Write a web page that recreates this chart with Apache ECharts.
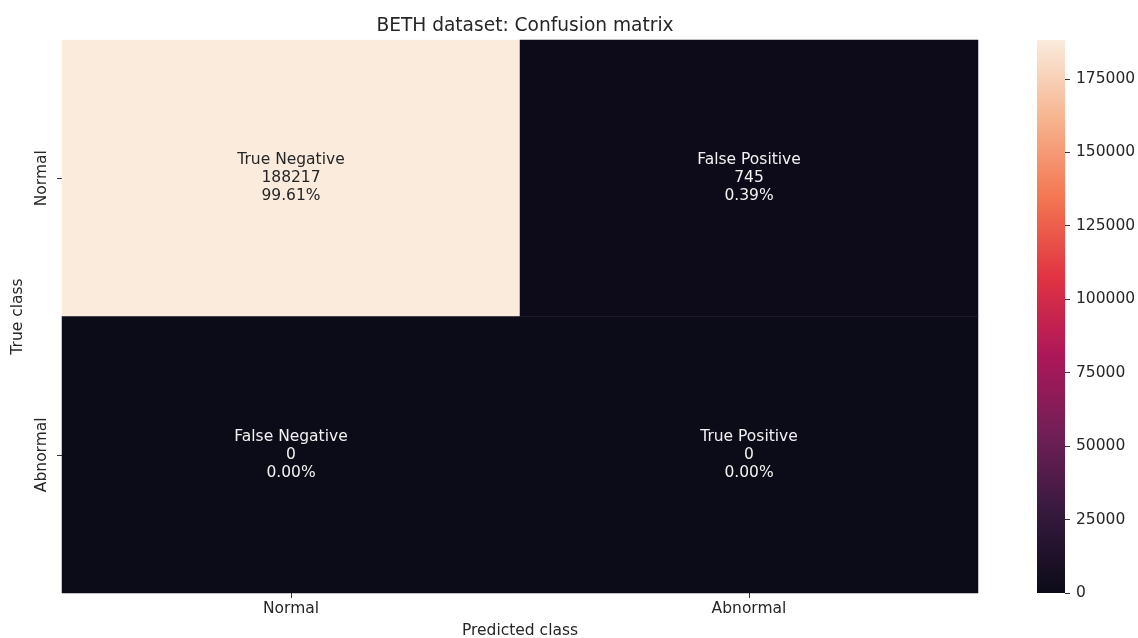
<!DOCTYPE html>
<html>
<head>
<meta charset="utf-8">
<title>BETH dataset: Confusion matrix</title>
<script src="https://cdn.jsdelivr.net/npm/echarts@6/dist/echarts.min.js"></script>
<style>
  html, body { margin: 0; padding: 0; background: #fff; }
  #chart { width: 1138px; height: 638px; }
</style>
</head>
<body>
<div id="chart"></div>
<script>
// Confusion matrix data
const predictedClasses = ['Normal', 'Abnormal'];
const trueClasses = ['Normal', 'Abnormal'];
const cellNames = [
  ['True Negative', 'False Positive'],
  ['False Negative', 'True Positive']
];
const counts = [
  [188217, 745],
  [0, 0]
];
const colorbarTicks = [0, 25000, 50000, 75000, 100000, 125000, 150000, 175000];

// "rocket" colour map stops (low -> high)
const rocketStops = [
  [0.000, '#0c0b18'],
  [0.143, '#35193e'],
  [0.286, '#701f57'],
  [0.429, '#ad1759'],
  [0.571, '#e13342'],
  [0.714, '#f37651'],
  [0.857, '#f6b48f'],
  [1.000, '#faebdd']
];

const flat = counts.flat();
const total = flat.reduce((a, b) => a + b, 0);
const vmin = Math.min(...flat);
const vmax = Math.max(...flat);

const heatData = [];
counts.forEach((row, r) => {
  row.forEach((v, c) => {
    const frac = (v - vmin) / (vmax - vmin);
    heatData.push({
      value: [c, r, v],
      name: cellNames[r][c],
      label: { color: frac > 0.6 ? '#262626' : '#f2f2f2' }
    });
  });
});

const FONT = 'DejaVu Sans';
const textColor = '#262626';

const chart = echarts.init(document.getElementById('chart'), null, { renderer: 'canvas' });

chart.setOption({
  animation: false,
  backgroundColor: '#ffffff',
  textStyle: { fontFamily: FONT },
  title: {
    text: 'BETH dataset: Confusion matrix',
    left: 520,
    textAlign: 'center',
    top: 12,
    textStyle: { fontFamily: FONT, fontSize: 18.6, fontWeight: 'normal', color: textColor }
  },
  grid: [
    { left: 62, right: 160, top: 40, bottom: 45, containLabel: false, outerBoundsMode: 'none' },
    { left: 1037, width: 28, top: 40, bottom: 45, containLabel: false, outerBoundsMode: 'none' }
  ],
  xAxis: [
    {
      type: 'category',
      gridIndex: 0,
      data: predictedClasses,
      name: 'Predicted class',
      nameLocation: 'middle',
      nameGap: 30,
      nameTextStyle: { fontFamily: FONT, fontSize: 15.5, color: textColor },
      axisLine: { show: false },
      axisTick: { show: true, alignWithLabel: true, length: 5, lineStyle: { color: '#333', width: 1 } },
      axisLabel: { fontFamily: FONT, fontSize: 15.5, color: textColor, margin: 8 },
      splitLine: { show: false }
    },
    {
      type: 'category',
      gridIndex: 1,
      data: [''],
      show: false
    }
  ],
  yAxis: [
    {
      type: 'category',
      gridIndex: 0,
      data: trueClasses,
      inverse: true,
      name: 'True class',
      nameLocation: 'middle',
      nameGap: 36,
      nameRotate: 90,
      nameTextStyle: { fontFamily: FONT, fontSize: 15.5, color: textColor },
      axisLine: { show: false },
      axisTick: { show: true, alignWithLabel: true, length: 5, lineStyle: { color: '#333', width: 1 } },
      axisLabel: { fontFamily: FONT, fontSize: 15.5, color: textColor, rotate: 90, margin: 12 },
      splitLine: { show: false }
    },
    {
      type: 'value',
      gridIndex: 1,
      position: 'right',
      min: vmin,
      max: vmax,
      interval: colorbarTicks[1] - colorbarTicks[0],
      axisLine: { show: false },
      axisTick: {
        show: true, length: 5, customValues: colorbarTicks,
        lineStyle: { color: '#333', width: 1 }
      },
      axisLabel: {
        fontFamily: FONT, fontSize: 15.5, color: textColor, margin: 11,
        customValues: colorbarTicks,
        formatter: v => String(v)
      },
      splitLine: { show: false }
    }
  ],
  visualMap: {
    show: false,
    type: 'continuous',
    seriesIndex: 0,
    dimension: 2,
    min: vmin,
    max: vmax,
    inRange: { color: rocketStops.map(s => s[1]) }
  },
  series: [
    {
      type: 'heatmap',
      xAxisIndex: 0,
      yAxisIndex: 0,
      data: heatData,
      itemStyle: { borderWidth: 0 },
      label: {
        show: true,
        fontFamily: FONT,
        fontSize: 15.5,
        lineHeight: 18,
        align: 'center',
        formatter: p => {
          const v = p.value[2];
          return p.name + '\n' + v + '\n' + (v / total * 100).toFixed(2) + '%';
        }
      },
      emphasis: { disabled: true }
    },
    {
      // colour bar
      type: 'bar',
      xAxisIndex: 1,
      yAxisIndex: 1,
      data: [vmax],
      barWidth: '100%',
      silent: true,
      itemStyle: {
        color: new echarts.graphic.LinearGradient(0, 1, 0, 0,
          rocketStops.map(s => ({ offset: s[0], color: s[1] })))
      }
    }
  ]
});
</script>
</body>
</html>
